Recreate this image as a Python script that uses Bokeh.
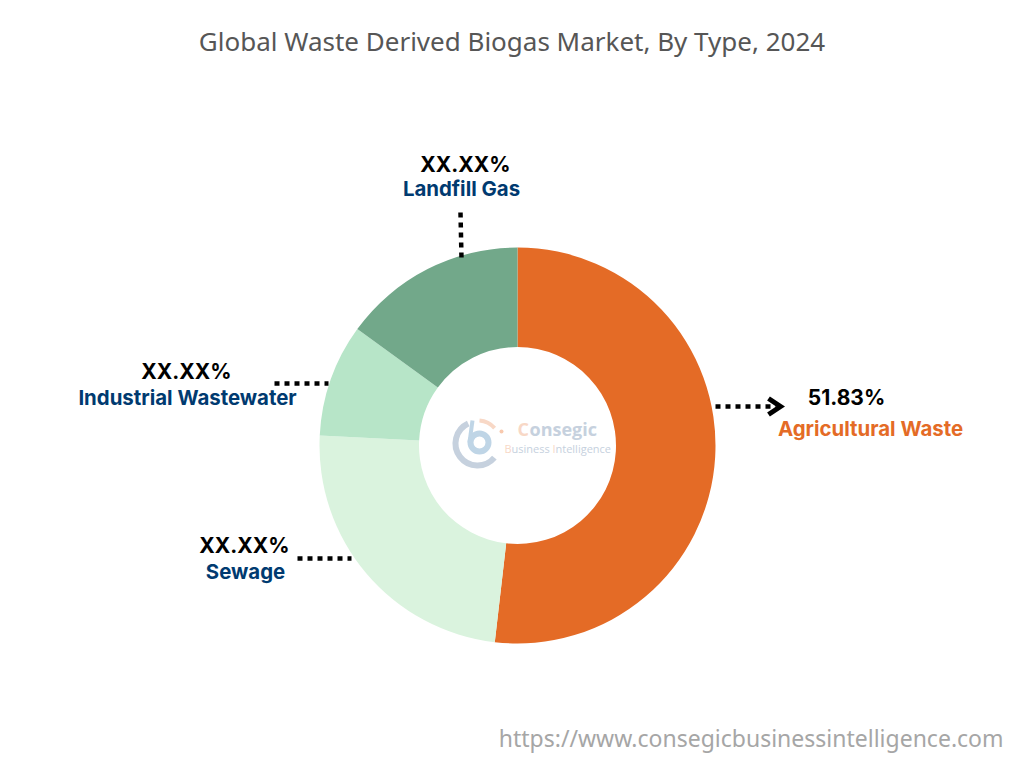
import math
from bokeh.core.properties import value
from bokeh.embed import file_html
from bokeh.models import ColumnDataSource
from bokeh.plotting import figure
from bokeh.resources import INLINE

# shares, clockwise from 12 o'clock
types = ["Agricultural Waste", "Sewage", "Industrial Wastewater", "Landfill Gas"]
shares = [51.83, 23.97, 9.2, 15.0]
share_labels = ["51.83%", "XX.XX%", "XX.XX%", "XX.XX%"]
colors = ["#E46B26", "#DAF3DE", "#B7E5C8", "#72A88A"]
name_colors = ["#E46B26", "#003A70", "#003A70", "#003A70"]

# label places, in pixels of the picture
share_x = [846, 244, 186, 465]
share_y = [397, 545, 371, 164]
name_x = [870, 245, 187, 461]
name_y = [428, 571, 397, 188]

# watermark words: text, left edge, baseline, size, colour
logo_words = [
    ("C", 517, 440, 18, "#F8D8C6"),
    ("onsegic", 529, 440, 18, "#C6D1DE"),
    ("B", 504, 455, 11, "#F8D8C6"),
    ("usiness", 511, 455, 11, "#C6D1DE"),
    ("I", 552, 455, 11, "#F8D8C6"),
    ("ntelligence", 555, 455, 11, "#C6D1DE"),
]


def up(py):
    # picture pixels count down, the figure counts up
    return 768 - py


p = figure(width=1008, height=760, x_range=(0, 1008), y_range=(8, 768),
           output_backend="svg", toolbar_location=None, min_border=0,
           x_axis_type=None, y_axis_type=None, outline_line_color=None,
           background_fill_color="white", border_fill_color="white")
p.grid.visible = False

# donut
ends = []
total = 0
for s in shares:
    total += s
    ends.append(total)
starts = [0] + ends[:-1]
src = ColumnDataSource(dict(
    start=[math.pi / 2 - 2 * math.pi * a / 100 for a in starts],
    end=[math.pi / 2 - 2 * math.pi * b / 100 for b in ends],
    color=colors,
))
p.annular_wedge(x=517, y=up(445), inner_radius=98.5, outer_radius=198,
                start_angle="start", end_angle="end", direction="clock",
                fill_color="color", line_color=None, source=src)

# dotted leaders
leaders = [
    ([715, 776], [406, 406]),
    ([274, 328], [383, 383]),
    ([297, 351], [558, 558]),
    ([460, 461], [212, 258]),
]
for xs, ys in leaders:
    p.line(xs, [up(v) for v in ys], line_color="black", line_width=4.5, line_dash=[5, 5])
p.line([768, 780, 768], [up(398), up(406), up(414)], line_color="black", line_width=5,
       line_join="miter")

# labels
for i in range(len(types)):
    p.text([share_x[i]], [up(share_y[i])], text=[share_labels[i]], text_align="center",
           text_baseline="middle", text_font=value("Inter"), text_font_style="bold",
           text_font_size="21px", text_color="black")
    p.text([name_x[i]], [up(name_y[i])], text=[types[i]], text_align="center",
           text_baseline="middle", text_font=value("Inter"), text_font_style="bold",
           text_font_size="20.4px", text_color=name_colors[i])

p.text([511.5], [up(40)], text=["Global Waste Derived Biogas Market, By Type, 2024"],
       text_align="center", text_baseline="middle", text_font=value("Noto Sans"),
       text_font_size="26px", text_color="#565656")
p.text([1003], [up(737)], text=["https://www.consegicbusinessintelligence.com"],
       text_align="right", text_baseline="middle", text_font=value("Noto Sans"),
       text_font_size="23px", text_color="#A6A6A6")

# watermark logo
p.arc(x=477, y=up(443), radius=22, start_angle=math.radians(115), end_angle=math.radians(-40),
      direction="anticlock", line_color="#C6D1DE", line_width=6)
p.arc(x=477, y=up(443), radius=23, start_angle=math.radians(85), end_angle=math.radians(42),
      direction="clock", line_color="#F8D8C6", line_width=4)
p.arc(x=479, y=up(442), radius=9, start_angle=0, end_angle=2 * math.pi,
      line_color="#BFD5E6", line_width=6)
p.line([472, 469], [up(420), up(442)], line_color="#BFD5E6", line_width=4)
p.scatter([501], [up(431)], size=4, marker="circle", fill_color="#F8C9AE", line_color=None)
for word, x, y, size, color in logo_words:
    p.text([x], [up(y)], text=[word], text_font=value("Open Sans"), text_font_size=f"{size}px",
           text_color=color, text_font_style="bold" if size > 12 else "normal")

open("out.html", "w").write(file_html(p, INLINE))
